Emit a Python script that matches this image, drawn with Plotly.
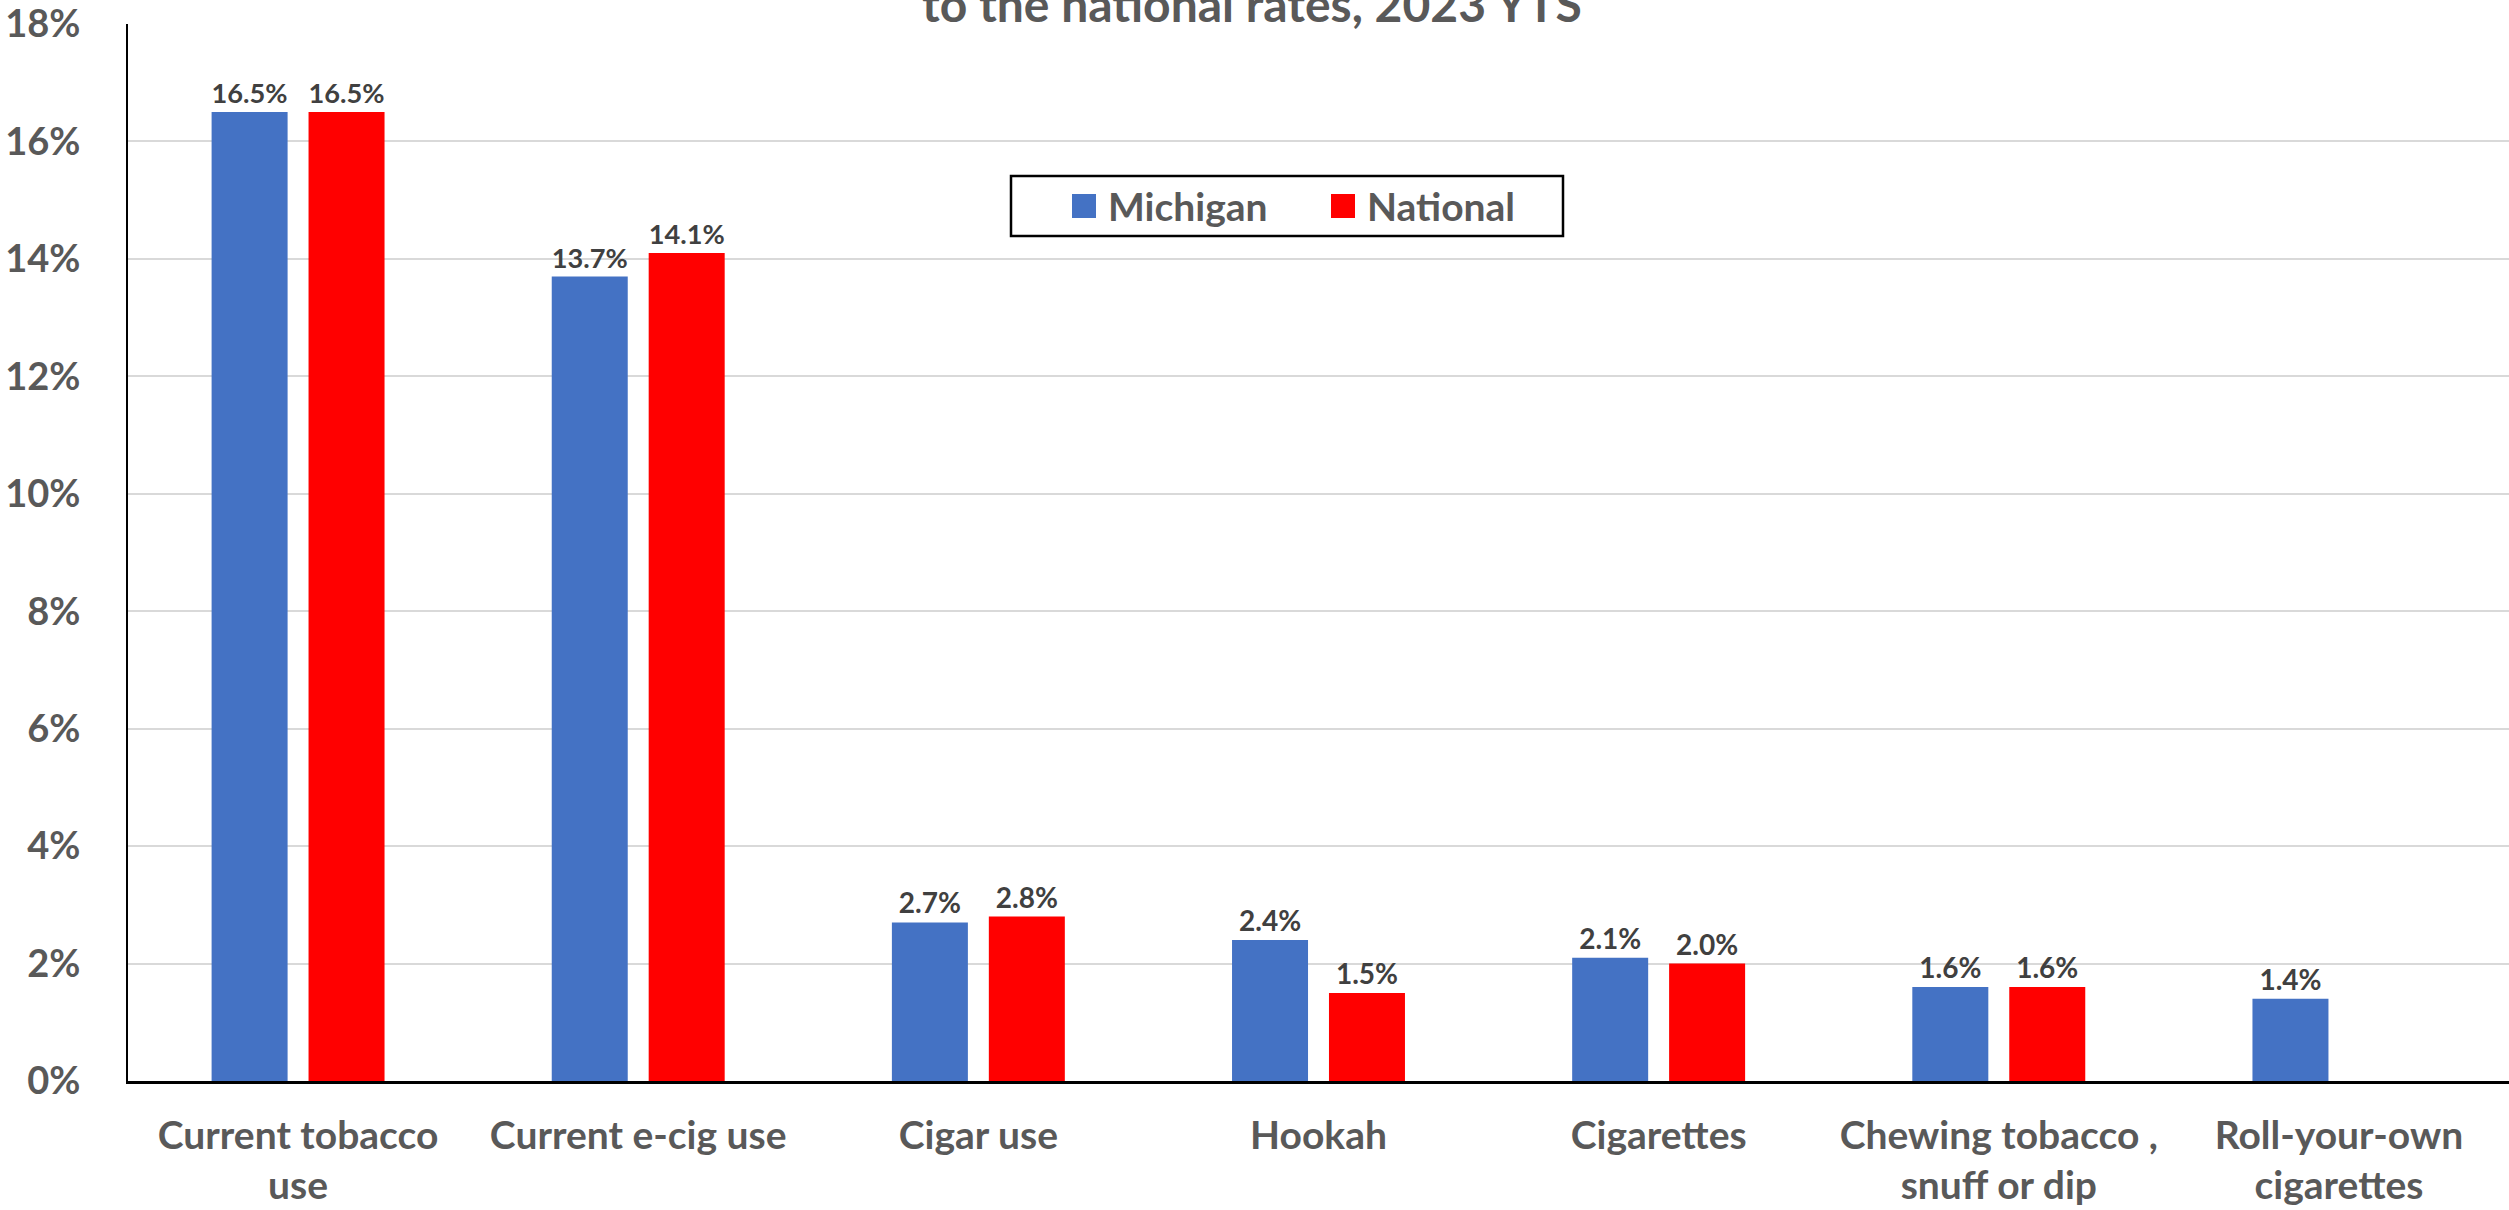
import plotly.graph_objects as go

categories = ["Current tobacco<br>use", "Current e-cig use", "Cigar use", "Hookah",
              "Cigarettes", "Chewing tobacco ,<br>snuff or dip", "Roll-your-own<br>cigarettes"]
michigan = [16.5, 13.7, 2.7, 2.4, 2.1, 1.6, 1.4]
national = [16.5, 14.1, 2.8, 1.5, 2.0, 1.6, None]
series_names = ["Michigan", "National"]
series_colors = ["#4472C4", "#FF0000"]
title_text = "to the national rates, 2023 YTS"

FONT = "Lato"
W, H = 2509, 1210
ML, MR, MT, MB = 128, 0, 24, 129

fig = go.Figure()
for name, vals, col in zip(series_names, [michigan, national], series_colors):
    fig.add_trace(go.Bar(
        x=categories, y=vals, name=name, marker_color=col, marker_line_width=0,
        text=[None if v is None else f"{v:.1f}%" for v in vals],
        textposition="outside", cliponaxis=False,
        textfont=dict(family=FONT, size=28, color="#404040", weight="bold"),
        showlegend=False,
    ))

pw = W - ML - MR
ph = H - MT - MB
def px(x):
    return (x - ML) / pw
def py(y):
    return (H - MB - y) / ph

shapes = [dict(type="rect", xref="paper", yref="paper",
               x0=px(1011), x1=px(1563), y0=py(236), y1=py(176),
               line=dict(color="black", width=2.5), fillcolor="white", layer="above")]
annotations = []
for name, col, sx, tx in zip(series_names, series_colors, [1072, 1331], [1106, 1365]):
    shapes.append(dict(type="rect", xref="paper", yref="paper",
                       x0=px(sx), x1=px(sx + 24), y0=py(218), y1=py(194),
                       line=dict(width=0), fillcolor=col, layer="above"))
    annotations.append(dict(text=name, xref="paper", yref="paper", x=px(tx), y=py(206),
                            xanchor="left", yanchor="middle", showarrow=False,
                            font=dict(family=FONT, size=39, color="#595959", weight="bold")))

annotations.append(dict(text=title_text, xref="paper", yref="paper", x=px(1252), y=1,
                        xanchor="center", yanchor="middle", yshift=21, showarrow=False,
                        font=dict(family=FONT, size=48, color="#595959", weight="bold")))

fig.update_layout(
    width=W, height=H,
    margin=dict(l=ML, r=MR, t=MT, b=MB, pad=0, autoexpand=False),
    paper_bgcolor="white", plot_bgcolor="white",
    barmode="group", bargap=0.43, bargroupgap=0.216,
    font=dict(family=FONT, color="#595959"),
    shapes=shapes, annotations=annotations,
    xaxis=dict(showline=True, linecolor="black", linewidth=2.5, ticks="",
               tickfont=dict(family=FONT, size=39, color="#595959", weight="bold"),
               ticklabelstandoff=18, showgrid=False, fixedrange=True, automargin=False),
    yaxis=dict(range=[0, 18], tickmode="linear", tick0=0, dtick=2, ticksuffix="%",
               showline=True, linecolor="black", ticklabeloverflow="allow",
               linewidth=2, showgrid=True, gridcolor="#D9D9D9", gridwidth=2,
               zeroline=False, ticks="", ticklabelstandoff=38, automargin=False,
               tickfont=dict(family=FONT, size=38, color="#595959", weight="bold")),
)

fig.write_html("out.html", config={"displayModeBar": False},
               post_script="document.body.style.margin='0';document.body.style.overflow='hidden';")
